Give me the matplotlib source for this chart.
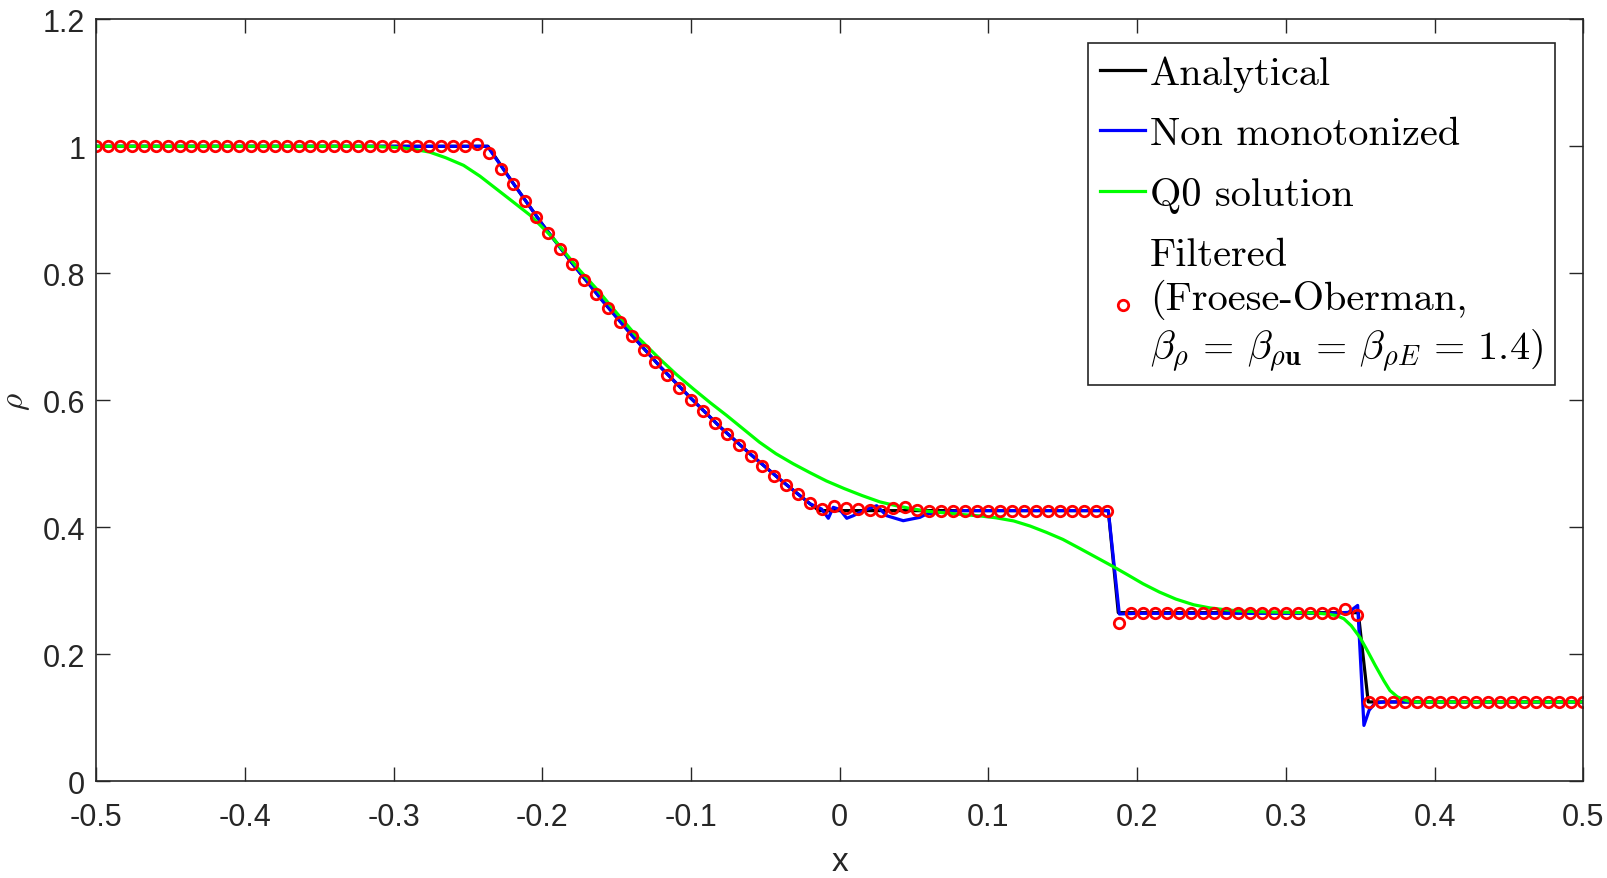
import numpy as np
import matplotlib
matplotlib.use("Agg")
import matplotlib.pyplot as plt
from matplotlib.ticker import FuncFormatter

plt.rcParams['font.family'] = ['Liberation Sans', 'DejaVu Sans']
plt.rcParams['mathtext.fontset'] = 'cm'
plt.rcParams['axes.unicode_minus'] = False

# analytical Sod solution
x_exact = [-0.5, -0.2366, -0.22, -0.20, -0.18, -0.16, -0.14, -0.12, -0.10,
           -0.08, -0.06, -0.04, -0.02, -0.014, 0.1806, 0.1873, 0.3487,
           0.3554, 0.5]
rho_exact = [1.0, 1.0, 0.943, 0.877, 0.816, 0.758, 0.703, 0.651, 0.603,
             0.557, 0.515, 0.475, 0.437, 0.4263, 0.4263, 0.2656, 0.2656,
             0.125, 0.125]

# non monotonized solution
x_nonmono = [-0.5, -0.237, -0.22, -0.20, -0.18, -0.16, -0.14, -0.12, -0.10,
             -0.08, -0.06, -0.04, -0.02, -0.0122, -0.0077, -0.0044, 0.0,
             0.0047, 0.0091, 0.0158, 0.0248, 0.0315, 0.0427, 0.0539,
             0.0584, 0.0674, 0.08, 0.1806, 0.188, 0.20, 0.33, 0.342,
             0.3483, 0.3525, 0.356, 0.360, 0.366, 0.5]
rho_nonmono = [1.0, 1.0, 0.943, 0.877, 0.816, 0.758, 0.703, 0.651, 0.603,
               0.557, 0.515, 0.475, 0.437, 0.4288, 0.4142, 0.4315, 0.428,
               0.4142, 0.4183, 0.4262, 0.434, 0.4183, 0.4104, 0.4157,
               0.421, 0.4236, 0.4263, 0.4263, 0.2635, 0.2645, 0.2646, 0.266,
               0.277, 0.088, 0.112, 0.123, 0.125, 0.125]

# Q0 solution
x_q0 = [-0.5, -0.32, -0.31, -0.296, -0.286, -0.276, -0.265, -0.253, -0.242,
        -0.231, -0.22, -0.208, -0.193, -0.175, -0.163, -0.152, -0.137,
        -0.121, -0.11, -0.0985, -0.087, -0.076, -0.065, -0.054, -0.043,
        -0.0313, -0.02, -0.009, 0.003, 0.015, 0.027, 0.038, 0.049, 0.06,
        0.072, 0.083, 0.094, 0.105, 0.117, 0.128, 0.139, 0.150, 0.162,
        0.173, 0.184, 0.193, 0.204, 0.215, 0.226, 0.238, 0.249, 0.260,
        0.271, 0.283, 0.305, 0.320, 0.327, 0.334, 0.339, 0.344, 0.350,
        0.355, 0.360, 0.366, 0.370, 0.375, 0.381, 0.388, 0.5]
rho_q0 = [1.0, 1.0, 0.9995, 0.998, 0.995, 0.991, 0.982, 0.970, 0.953,
          0.933, 0.913, 0.891, 0.856, 0.805, 0.774, 0.743, 0.702,
          0.665, 0.641, 0.618, 0.596, 0.576, 0.555, 0.534, 0.516,
          0.500, 0.486, 0.473, 0.461, 0.450, 0.440, 0.434, 0.429, 0.425,
          0.4225, 0.420, 0.418, 0.415, 0.410, 0.402, 0.392, 0.381, 0.366,
          0.352, 0.338, 0.326, 0.311, 0.298, 0.287, 0.278, 0.273, 0.270,
          0.268, 0.267, 0.266, 0.265, 0.2635, 0.261, 0.256, 0.245, 0.226,
          0.205, 0.183, 0.158, 0.143, 0.133, 0.127, 0.125, 0.125]

# filtered solution (Froese-Oberman), one value per grid point
x_filt = np.linspace(-0.5, 0.5, 126)
rho_filt = ([1.0] * 32 +
            [1.004, 0.989, 0.964, 0.940, 0.914, 0.888, 0.863, 0.838, 0.814,
             0.790, 0.767, 0.745, 0.723, 0.701, 0.680, 0.660, 0.640, 0.620,
             0.601, 0.583, 0.565, 0.547, 0.530, 0.513, 0.497, 0.481, 0.466,
             0.452, 0.438, 0.429, 0.434, 0.430, 0.429, 0.428, 0.425, 0.431,
             0.432, 0.427, 0.425, 0.425] +
            [0.426] * 14 +
            [0.249] +
            [0.2645] * 18 +
            [0.271, 0.2625] +
            [0.125] * 19)

xticks = [-0.5, -0.4, -0.3, -0.2, -0.1, 0, 0.1, 0.2, 0.3, 0.4, 0.5]
yticks = [0, 0.2, 0.4, 0.6, 0.8, 1, 1.2]

fig = plt.figure(figsize=(16.08, 8.79), dpi=100)
ax = fig.add_axes([0.0599, 0.110, 0.9247, 0.8669])

ax.plot(x_exact, rho_exact, color='black', lw=2.3, label='Analytical')
ax.plot(x_nonmono, rho_nonmono, color='blue', lw=2.3, label='Non monotonized')
ax.plot(x_q0, rho_q0, color='#00ff00', lw=2.3, label='Q0 solution')
ax.plot(x_filt, rho_filt, 'o', color='red', mfc='none', ms=7.5, mew=2.0,
        label='Filtered\n(Froese-Oberman,\n'
              r'$\beta_\rho \,=\, \beta_{\rho\mathbf{u}} \,=\, '
              r'\beta_{\rho E} \,=\, 1.4$)')

ax.set_xlim(-0.5, 0.5)
ax.set_ylim(0, 1.2)
ax.set_xticks(xticks)
ax.set_yticks(yticks)
fmt = FuncFormatter(lambda v, p: '%g' % round(v, 3))
ax.xaxis.set_major_formatter(fmt)
ax.yaxis.set_major_formatter(fmt)
ax.tick_params(direction='in', length=10, width=1, colors='#262626',
               labelsize=22, top=True, right=True, pad=8)
ax.tick_params(axis='x', pad=15)
for s in ax.spines.values():
    s.set_color('#262626')
    s.set_linewidth(1.2)

ax.set_xlabel('x', fontsize=24, color='#262626', labelpad=10)
ax.set_ylabel(r'$\rho$', fontsize=24, color='#262626', labelpad=8)

leg = ax.legend(loc='upper right',
                bbox_to_anchor=(1555.3 / 1608, 1 - 44.3 / 879),
                bbox_transform=fig.transFigure, borderaxespad=0,
                prop={'family': 'cmr10', 'size': 29}, handlelength=1.12,
                handletextpad=0.12, labelspacing=0.6, borderpad=0.3,
                fancybox=False, framealpha=1, edgecolor='#262626')
leg.get_frame().set_linewidth(1.2)
for t in leg.get_texts():
    t.set_linespacing(1.22)

fig.savefig('out.png', dpi=100)
